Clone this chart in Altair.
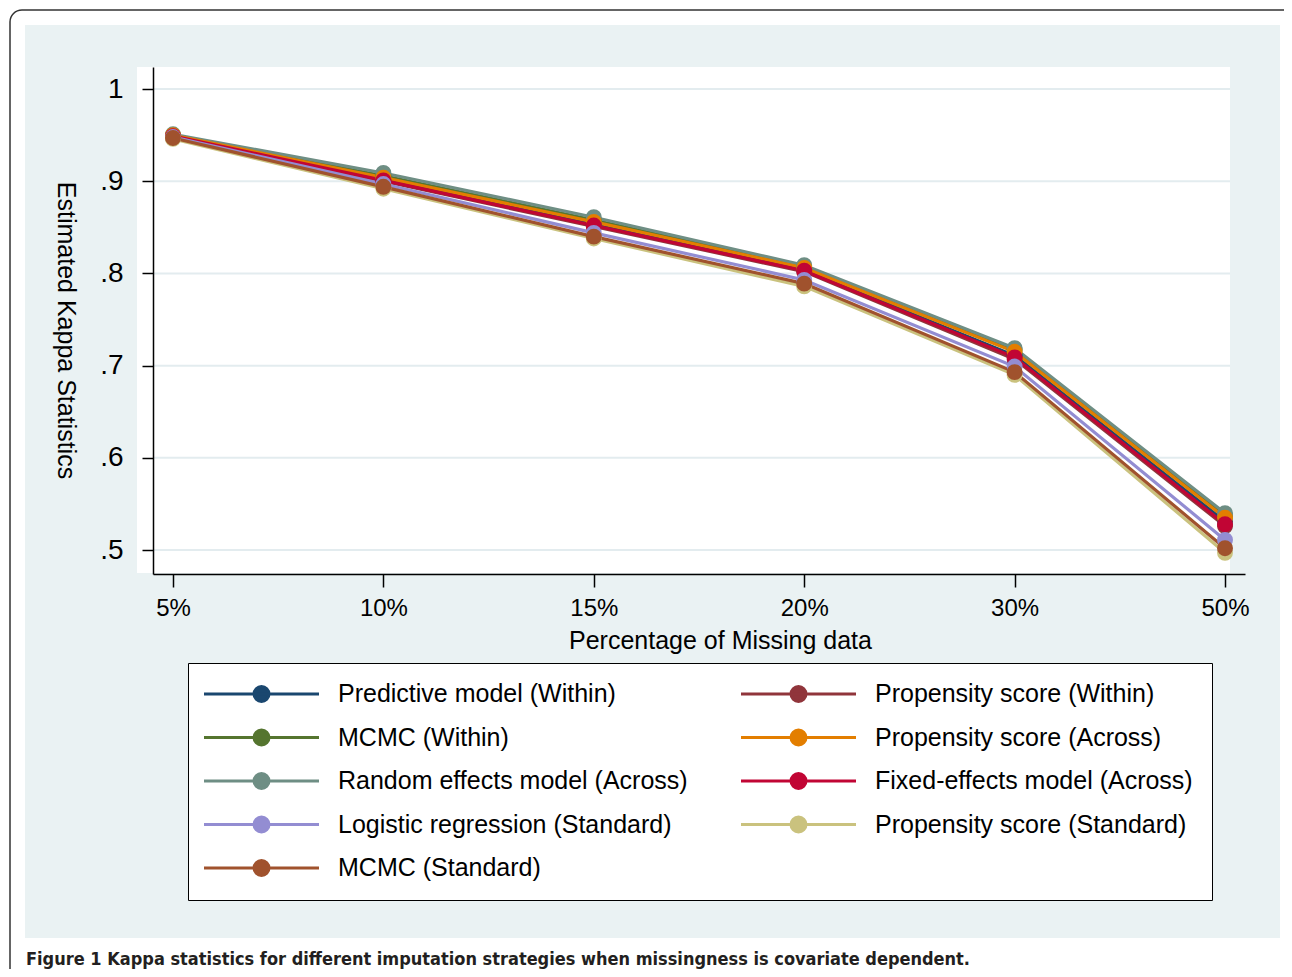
import altair as alt
import pandas as pd

# ---- data ----
missing = ["5%", "10%", "15%", "20%", "30%", "50%"]

predictive_within = [0.949, 0.902, 0.853, 0.804, 0.711, 0.531]
mcmc_within = [0.950, 0.906, 0.858, 0.807, 0.717, 0.537]
random_effects_across = [0.951, 0.909, 0.861, 0.809, 0.719, 0.540]
propensity_within = [0.948, 0.900, 0.851, 0.802, 0.707, 0.526]
propensity_across = [0.950, 0.904, 0.856, 0.806, 0.715, 0.535]
fixed_effects_across = [0.949, 0.901, 0.852, 0.803, 0.709, 0.528]
logistic_standard = [0.948, 0.897, 0.844, 0.793, 0.699, 0.511]
propensity_standard = [0.946, 0.892, 0.838, 0.786, 0.690, 0.497]
mcmc_standard = [0.947, 0.894, 0.840, 0.789, 0.693, 0.502]

# drawing order (later drawn on top)
series = [
    ("Predictive model (Within)", predictive_within),
    ("MCMC (Within)", mcmc_within),
    ("Random effects model (Across)", random_effects_across),
    ("Propensity score (Within)", propensity_within),
    ("Propensity score (Across)", propensity_across),
    ("Fixed-effects model (Across)", fixed_effects_across),
    ("Logistic regression (Standard)", logistic_standard),
    ("Propensity score (Standard)", propensity_standard),
    ("MCMC (Standard)", mcmc_standard),
]

# legend order (filled column by column, two columns)
legend_order = [
    "Predictive model (Within)",
    "MCMC (Within)",
    "Random effects model (Across)",
    "Logistic regression (Standard)",
    "MCMC (Standard)",
    "Propensity score (Within)",
    "Propensity score (Across)",
    "Fixed-effects model (Across)",
    "Propensity score (Standard)",
]
legend_colors = [
    "#1a476f",
    "#55752f",
    "#6e8e84",
    "#938dd2",
    "#a0522d",
    "#90353b",
    "#e37e00",
    "#c10534",
    "#cac27e",
]

y_ticks = [0.5, 0.6, 0.7, 0.8, 0.9, 1.0]
caption = "Figure 1 Kappa statistics for different imputation strategies when missingness is covariate dependent."

rows = []
for order, (name, vals) in enumerate(series):
    for m, v in zip(missing, vals):
        rows.append({"missing": m, "kappa": v, "method": name, "order": order})
df = pd.DataFrame(rows)

FONT = "Liberation Sans, Arial, Helvetica, sans-serif"
BG = "#eaf2f3"
W, H = 1092, 507
YDOM = [0.474, 1.024]

x_enc = alt.X(
    "missing:O",
    sort=missing,
    scale=alt.Scale(type="point", padding=0.095),
    axis=alt.Axis(
        title="Percentage of Missing data",
        titleX=567, titleY=66, titleBaseline="middle", titleAlign="center",
        titleFontSize=25, titleFontWeight="normal", titleFont=FONT, titleColor="black",
        labelAngle=0, labelFontSize=24, labelFont=FONT, labelColor="black",
        labelPadding=9, tickSize=13, tickColor="black", tickWidth=1.5,
        domainColor="black", domainWidth=1.5, grid=False, zindex=1,
    ),
)
y_axis = alt.Axis(
    title="Estimated Kappa Statistics",
    titleAngle=90, titleX=-88, titleY=263, titleBaseline="middle", titleAlign="center",
    titleFontSize=25, titleFontWeight="normal", titleFont=FONT, titleColor="black",
    values=y_ticks,
    labelExpr="datum.value == 1 ? '1' : replace(format(datum.value, '.1f'), '0.', '.')",
    labelFontSize=28, labelFont=FONT, labelColor="black", labelPadding=19,
    tickSize=11, tickColor="black", tickWidth=1.5,
    domainColor="black", domainWidth=1.5, grid=False, zindex=1,
)
y_enc = alt.Y("kappa:Q", scale=alt.Scale(domain=YDOM, nice=False, zero=False), axis=y_axis)

# legend key: a short line with a filled dot (path extends beyond the nominal symbol size)
key_path = "M-5.75,0L5.75,0M0.75,0A0.75,0.75,0,1,1,-0.75,0A0.75,0.75,0,1,1,0.75,0Z"

color_enc = alt.Color(
    "method:N",
    scale=alt.Scale(domain=legend_order, range=legend_colors),
    legend=alt.Legend(
        title=None,
        orient="none", legendX=35, legendY=596,
        direction="vertical", columns=2, columnPadding=46, rowPadding=16.5,
        symbolType=key_path, symbolSize=400, symbolOffset=42.5,
        symbolStrokeWidth=3, symbolOpacity=1,
        labelFontSize=25, labelFont=FONT, labelColor="black", labelOffset=64,
        labelLimit=600, symbolLimit=0,
        fillColor="white", strokeColor="black", padding=18.5, zindex=1,
    ),
)

one = alt.Data(values=[{}])

frame = alt.Chart(one).mark_rect(
    fill="white", stroke="#333333", strokeWidth=1.5, cornerRadius=12
).encode(x=alt.value(-143), x2=alt.value(1160), y=alt.value(-57), y2=alt.value(960))

panel = alt.Chart(one).mark_rect(fill=BG).encode(
    x=alt.value(-128), x2=alt.value(1127), y=alt.value(-42), y2=alt.value(871)
)

plot_bg = alt.Chart(one).mark_rect(fill="white").encode(
    x=alt.value(-16), x2=alt.value(1077), y=alt.value(0), y2=alt.value(506)
)

grid = alt.Chart(pd.DataFrame({"kappa": y_ticks})).mark_rule(
    color="#e3ecef", strokeWidth=2
).encode(
    y=y_enc,
    x=alt.value(0), x2=alt.value(1077),
)

base = alt.Chart(df)
lines = base.mark_line(strokeWidth=3.2).encode(
    x=x_enc, y=y_enc, color=color_enc, order="order:Q", detail="method:N"
)
points = base.mark_point(filled=True, size=254, opacity=1, strokeWidth=0).encode(
    x=x_enc, y=y_enc, color=color_enc, order="order:Q"
)

cap = alt.Chart(one).mark_text(
    text=caption, align="left", baseline="middle", fontSize=18, fontWeight="bold",
    font="DejaVu Sans Condensed, Liberation Sans Narrow, Arial Narrow, sans-serif", color="#231f20",
).encode(x=alt.value(-127), y=alt.value(893))

chart = alt.layer(frame, panel, plot_bg, grid, lines, points, cap).properties(
    width=W, height=H,
    autosize=alt.AutoSizeParams(type="none"),
    padding={"left": 145, "top": 59, "right": 39, "bottom": 395},
    background="white",
).configure_view(stroke=None)

chart.save("out.html", embed_options={"renderer": "svg", "actions": False})
